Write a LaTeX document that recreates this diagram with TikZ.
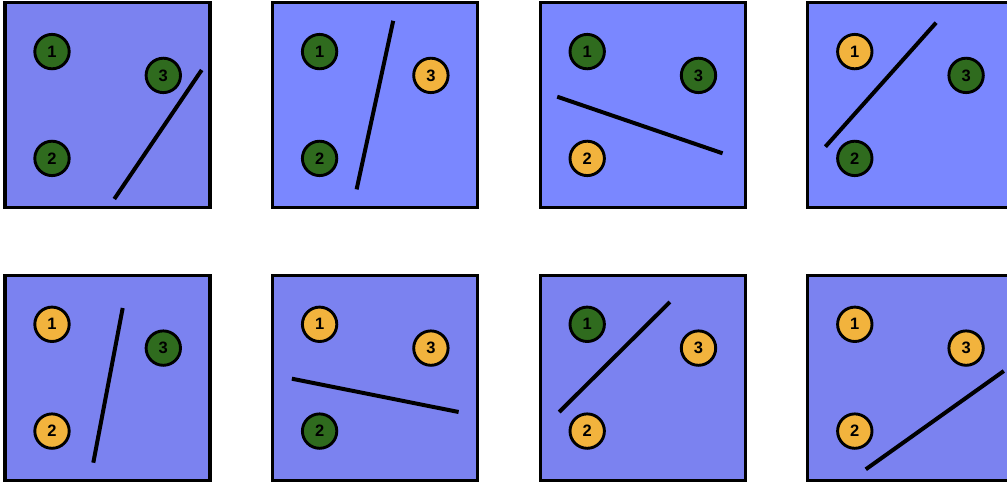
\documentclass[tikz,border=0pt]{standalone}
\usepackage{fontspec}
\setmainfont{Liberation Sans}
\definecolor{bgdark}{RGB}{123,130,240}
\definecolor{bglight}{RGB}{122,135,255}
\definecolor{gr}{RGB}{47,107,30}
\definecolor{og}{RGB}{242,179,61}
\tikzset{
  panelbox/.style={draw=black, line width=3.3pt, minimum width=205pt, minimum height=205pt, inner sep=0pt},
  dot/.style={circle, draw=black, line width=2.9pt, minimum size=34.4pt, inner sep=0pt, font=\fontsize{16.5}{16.5}\selectfont\bfseries},
  wall/.style={line width=4pt, black}
}
\newcommand{\panel}[8]{%
  \begin{scope}[shift={#2}]
    \node[panelbox, fill=#3] (#1box) at (103.5,103.5) {};
    \node[dot, fill=#4] (#1c1) at (48,49.8) {1};
    \node[dot, fill=#5] (#1c2) at (48,156.6) {2};
    \node[dot, fill=#6] (#1c3) at (159.3,73.6) {3};
    \coordinate (#1a) at #7;
    \coordinate (#1b) at #8;
    \draw[wall] (#1a) -- (#1b);
  \end{scope}}
\begin{document}
\begin{tikzpicture}[x=1pt,y=-1pt]
\useasboundingbox (0,0) rectangle (1007,482);
\clip (0,0) rectangle (1007,482);
\fill[white] (0,0) rectangle (1007,482);
\panel{pA}{(4,1.8)}{bgdark}{gr}{gr}{gr}{(110.3,197.2)}{(197.7,68.2)}
\panel{pB}{(271.6,1.8)}{bglight}{gr}{gr}{og}{(85,187.6)}{(121.6,19)}
\panel{pC}{(539.2,1.8)}{bglight}{gr}{og}{gr}{(18,94.9)}{(183.4,151.5)}
\panel{pD}{(806.8,1.8)}{bglight}{og}{gr}{gr}{(18.6,144.9)}{(129.3,20.9)}
\panel{pE}{(4,274.5)}{bgdark}{og}{og}{gr}{(89.3,188.2)}{(118.7,33.5)}
\panel{pF}{(271.6,274.5)}{bgdark}{og}{gr}{og}{(20.3,104.2)}{(187,137.5)}
\panel{pG}{(539.2,274.5)}{bgdark}{gr}{og}{og}{(20,137.5)}{(130.7,27.5)}
\panel{pH}{(806.8,274.5)}{bgdark}{og}{og}{og}{(59,194.8)}{(197,96.5)}
\end{tikzpicture}
\end{document}
